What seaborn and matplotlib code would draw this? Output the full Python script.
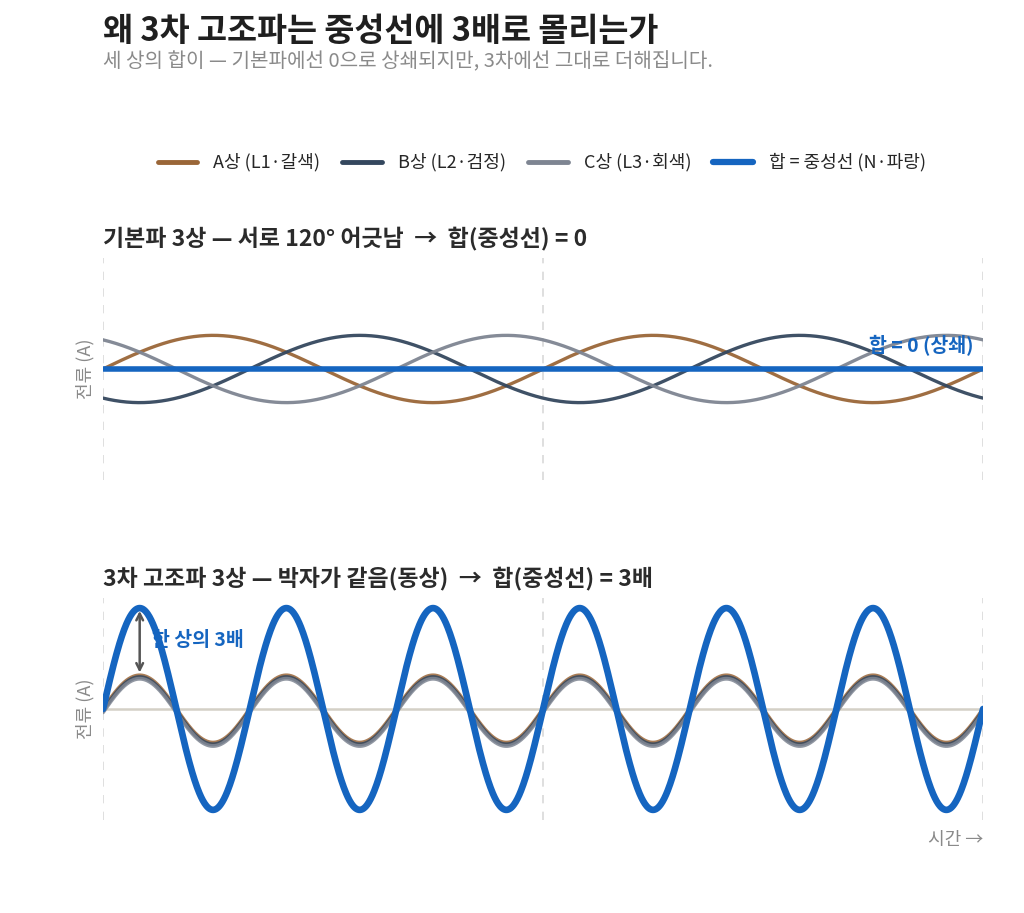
import numpy as np
import pandas as pd
import matplotlib
matplotlib.use("Agg")
import matplotlib.pyplot as plt
import seaborn as sns

# ==========================================
# DATA
# ==========================================

phase_names = ["A상 (L1·갈색)", "B상 (L2·검정)", "C상 (L3·회색)"]
sum_name = "합 = 중성선 (N·파랑)"
phase_shift_deg = [0, -120, 120]      # 기본파 위상
amplitude = [1.0, 1.0, 1.0]           # 각 상 진폭
band_offset = [0.0, -0.05, -0.10]     # 3차 고조파 곡선이 겹쳐 보이도록 살짝 내림
harmonic_orders = [1, 3]
cycles = 2                            # 기본파 2주기
grid_deg = [0, 360, 720]

colors = ["#9a6638", "#34475e", "#7e8592"]
sum_color = "#1565c0"

sns.set_theme(style="white")
plt.rcParams["font.family"] = ["Noto Sans CJK KR", "DejaVu Sans"]

theta = np.linspace(0, 360 * cycles, 1500)

frames = []
for h in harmonic_orders:
    for name, ph, amp, off in zip(phase_names, phase_shift_deg, amplitude, band_offset):
        y = amp * np.sin(np.radians(h * (theta + ph)))
        frames.append(pd.DataFrame({"theta": theta, "value": y + (off if h == 3 else 0.0),
                                    "raw": y, "series": name, "order": h}))
df = pd.concat(frames, ignore_index=True)
sums = df.groupby(["order", "theta"], as_index=False)["raw"].sum()

# ==========================================
# FIGURE
# ==========================================

fig = plt.figure(figsize=(10.24, 9.13), dpi=100)
ax1 = fig.add_axes([0.1006, 0.4743, 0.8594, 0.2431])
ax2 = fig.add_axes([0.1006, 0.1019, 0.8594, 0.2431])

for ax, h in [(ax1, 1), (ax2, 3)]:
    for g in grid_deg:
        ax.axvline(g, color="#d9d9d9", lw=1.2, ls=(0, (5, 5)), zorder=0)
    if h == 3:
        ax.axhline(0, color="#d4d0c6", lw=1.8, zorder=1)
    sub = df[df["order"] == h]
    sns.lineplot(data=sub, x="theta", y="value", hue="series", palette=colors,
                 hue_order=phase_names, lw=2.4 if h == 1 else 2.8,
                 alpha=0.95 if h == 1 else 0.85,
                 legend=False, ax=ax, zorder=2, estimator=None, sort=False)
    s = sums[sums["order"] == h]
    sns.lineplot(data=s, x="theta", y="raw", color=sum_color,
                 lw=4.0 if h == 1 else 4.8, legend=False, ax=ax, zorder=3,
                 estimator=None, sort=False)
    ax.set_xlim(0, 360 * cycles)
    ax.set_ylim(-3.3, 3.3)
    ax.set_xticks([])
    ax.set_yticks([])
    ax.set_xlabel("")
    ax.set_ylabel("전류 (A)", color="#8a8a8a", fontsize=13, labelpad=6)
    sns.despine(ax=ax, left=True, bottom=True)

ax1.set_title("기본파 3상 — 서로 120° 어긋남  →  합(중성선) = 0", loc="left",
              fontsize=16.5, fontweight="bold", color="#2b2b2b", pad=9)
ax2.set_title("3차 고조파 3상 — 박자가 같음(동상)  →  합(중성선) = 3배", loc="left",
              fontsize=16.5, fontweight="bold", color="#2b2b2b", pad=9)

ax1.text(712, 0.7, "합 = 0 (상쇄)", color=sum_color, fontsize=14,
         fontweight="bold", ha="right", va="center")

ax2.annotate("", xy=(30, 3.0), xytext=(30, 1.0),
             arrowprops=dict(arrowstyle="<->", color="#555555", lw=1.8))
ax2.text(40, 2.05, "한 상의 3배", color=sum_color, fontsize=14,
         fontweight="bold", ha="left", va="center")
ax2.text(720, -3.62, "시간 →", color="#8a8a8a", fontsize=13, ha="right", va="top")

# legend
handles = [plt.Line2D([], [], color=c, lw=3.5) for c in colors]
handles.append(plt.Line2D([], [], color=sum_color, lw=4.5))
fig.legend(handles, phase_names + [sum_name], loc="center", ncol=4,
           bbox_to_anchor=(0.529, 0.822), frameon=False, fontsize=13,
           handlelength=2.2, columnspacing=1.2, handletextpad=0.9)

fig.text(0.1006, 0.9655, "왜 3차 고조파는 중성선에 3배로 몰리는가", fontsize=23.5,
         fontweight="bold", color="#1f1f1f", ha="left", va="center")
fig.text(0.1006, 0.932, "세 상의 합이 — 기본파에선 0으로 상쇄되지만, 3차에선 그대로 더해집니다.",
         fontsize=14.5, color="#8a8a8a", ha="left", va="center")

fig.savefig("out.png", dpi=100, facecolor="white")
